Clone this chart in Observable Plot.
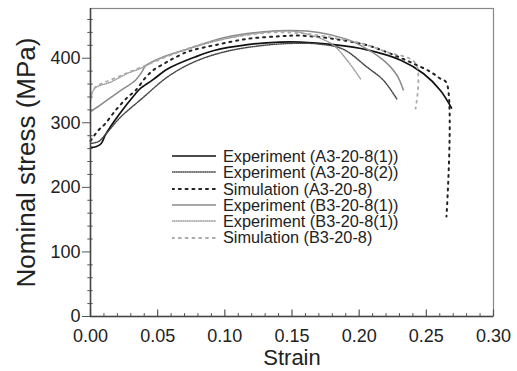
<!DOCTYPE html>
<html>
<head>
<meta charset="utf-8">
<script src="https://cdn.jsdelivr.net/npm/d3@7"></script>
<script src="https://cdn.jsdelivr.net/npm/@observablehq/plot@0.6"></script>
<style>
  body { margin: 0; background: #fff; }
  #wrap { position: relative; width: 517px; height: 371px; font-family: "Liberation Sans", Arial, sans-serif; }
  #legend { position: absolute; left: 172px; top: 148px; font-size: 16.3px; color: #222; line-height: 16.3px; }
  #legend .row { display: flex; align-items: center; height: 16.3px; white-space: nowrap; }
  #legend svg { width: 44px; height: 10px; margin-right: 7px; }
</style>
</head>
<body>
<div id="wrap"></div>
<script>
// Series: [strain, nominal stress (MPa)]
const expA3_1 = [[0,262],[0.004,263],[0.008,268],[0.011,281],[0.021,312],[0.0335,345],[0.037,353],[0.046,366],[0.058,384],[0.078,402],[0.092,412],[0.117,421],[0.141,425],[0.156,425],[0.181,421],[0.206,413],[0.231,397],[0.248,376],[0.2605,350],[0.269,322]];
const expA3_2 = [[0,268],[0.006,271],[0.012,284],[0.022,308],[0.038,337],[0.058,372],[0.078,395],[0.1,410],[0.125,419],[0.15,423],[0.17,422],[0.188,414],[0.206,386],[0.218,366],[0.228,337]];
const simA3 = [[0,272],[0.0057,288],[0.0107,298],[0.0186,319],[0.0273,339],[0.0335,350],[0.041,370],[0.047,382],[0.056,393],[0.062,400],[0.071,409],[0.077,413],[0.092,420],[0.117,430],[0.141,434],[0.156,435],[0.181,430],[0.206,420],[0.221,409],[0.238,394],[0.253,379],[0.26,369],[0.265,362],[0.265,155]];
const expB3_1 = [[0,317],[0.009,330],[0.021,348],[0.0335,366],[0.038,378],[0.041,388],[0.052,400],[0.072,414],[0.1,432],[0.129,441],[0.15,443],[0.17,440],[0.19,430],[0.201,420],[0.218,397],[0.228,374],[0.233,350]];
const expB3_2 = [[0,333],[0.003,353],[0.015,363],[0.027,376],[0.037,384],[0.052,400],[0.072,414],[0.1,430],[0.129,440],[0.15,442],[0.16,438],[0.172,430],[0.181,420],[0.191,397],[0.201,368]];
const simB3 = [[0,345],[0.004,356],[0.011,363],[0.025,375],[0.04,388],[0.06,405],[0.08,420],[0.1,430],[0.12,437],[0.14,440],[0.16,438],[0.18,432],[0.2,424],[0.22,410],[0.242,392],[0.242,322]];

const seriesNames = ["Experiment (A3-20-8(1))","Experiment (A3-20-8(2))","Simulation (A3-20-8)","Experiment (B3-20-8(1))","Experiment (B3-20-8(1))","Simulation (B3-20-8)"];

const xTicks = [0, 0.05, 0.10, 0.15, 0.20, 0.25, 0.30];
const xMinor = [0.01,0.02,0.03,0.04,0.06,0.07,0.08,0.09,0.11,0.12,0.13,0.14,0.16,0.17,0.18,0.19,0.21,0.22,0.23,0.24,0.26,0.27,0.28,0.29];
const yTicks = [0, 100, 200, 300, 400];
const yMinor = [20,40,60,80,120,140,160,180,220,240,260,280,320,340,360,380,420,440,460];

const styles = [
  {stroke: "#111", strokeWidth: 1.7, dash: null},
  {stroke: "#444", strokeWidth: 1.5, dash: "0.8,1.4"},
  {stroke: "#222", strokeWidth: 2, dash: "2,4.8"},
  {stroke: "#8a8a8a", strokeWidth: 1.5, dash: null},
  {stroke: "#9a9a9a", strokeWidth: 1.4, dash: "0.8,1.4"},
  {stroke: "#aaa", strokeWidth: 1.8, dash: "2,4.8"}
];
const allSeries = [expA3_1, expA3_2, simA3, expB3_1, expB3_2, simB3];

const font = "Liberation Sans, Arial, sans-serif";
const lineMarks = allSeries.map((s, i) => Plot.line(s, {
  x: d => d[0], y: d => d[1], curve: "catmull-rom",
  stroke: styles[i].stroke, strokeWidth: styles[i].strokeWidth,
  strokeDasharray: styles[i].dash, strokeLinecap: styles[i].dash ? "round" : "butt"
}));

const chart = Plot.plot({
  width: 517, height: 371,
  marginLeft: 90, marginRight: 24, marginTop: 8, marginBottom: 55,
  style: {fontFamily: font, background: "#fff", color: "#222"},
  x: {domain: [0, 0.3]},
  y: {domain: [0, 477]},
  marks: [
    Plot.frame({stroke: "#888", strokeWidth: 1.2}),
    Plot.ruleX(xMinor, {y1: 0, y2: 4.5, stroke: "#555", strokeWidth: 1}),
    Plot.ruleX(xTicks, {y1: 0, y2: 10, stroke: "#555", strokeWidth: 1.2}),
    Plot.ruleY(yMinor, {x1: -0.002, x2: 0.002, stroke: "#555", strokeWidth: 1}),
    Plot.axisX({ticks: xTicks, tickSize: 0, tickPadding: 13, tickFormat: d3.format(".2f"), fontSize: 18, label: null}),
    Plot.axisY({ticks: yTicks, tickSize: 8, tickPadding: 2, tickFormat: d3.format("d"), fontSize: 18, label: null, stroke: "#555"}),
    ...lineMarks,
    Plot.ruleX([0], {stroke: "#444", strokeWidth: 1.5}),
    Plot.ruleY([0], {stroke: "#444", strokeWidth: 1.5}),
    Plot.text(["Strain"], {frameAnchor: "bottom", textAnchor: "middle", dy: 48, fontSize: 22, fill: "#222"}),
    Plot.text(["Nominal stress (MPa)"], {frameAnchor: "left", textAnchor: "middle", dx: -64, rotate: -90, fontSize: 26, fill: "#222"})
  ]
});
const wrap = document.getElementById("wrap");
wrap.appendChild(chart);

const legend = document.createElement("div");
legend.id = "legend";
seriesNames.forEach((name, i) => {
  const row = document.createElement("div");
  row.className = "row";
  const st = styles[i];
  row.innerHTML = `<svg viewBox="0 0 44 10"><line x1="0" x2="44" y1="5" y2="5" stroke="${st.stroke}" stroke-width="${st.strokeWidth}" ${st.dash ? `stroke-dasharray="${st.dash}" stroke-linecap="round"` : ""}/></svg><span>${name}</span>`;
  legend.appendChild(row);
});
wrap.appendChild(legend);
</script>
</body>
</html>
